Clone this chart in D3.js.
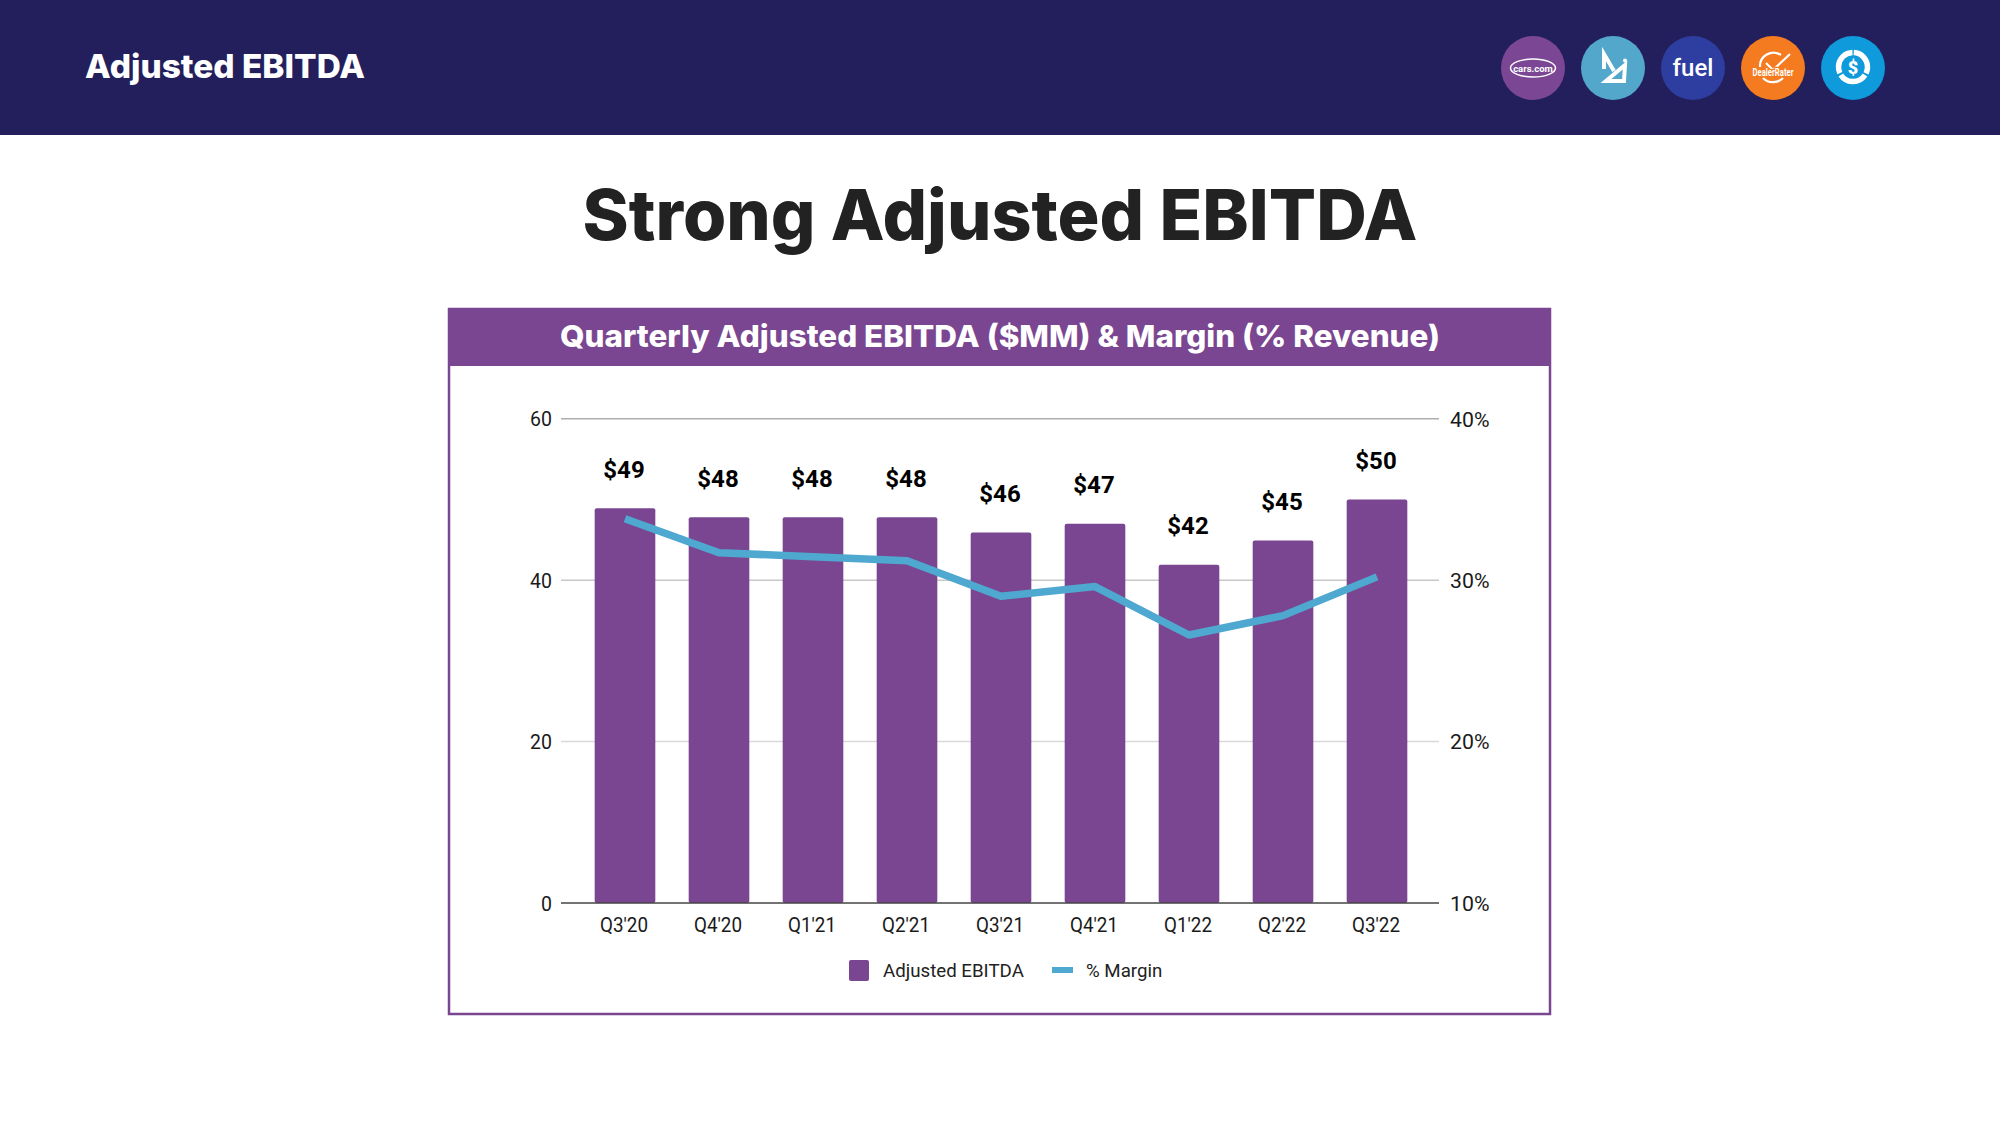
<!DOCTYPE html>
<html><head><meta charset="utf-8">
<script src="https://cdnjs.cloudflare.com/ajax/libs/d3/7.8.5/d3.min.js"></script>
<style>
html,body{margin:0;padding:0;background:#fff}
svg{display:block}
.tick text{font-family:Roboto,sans-serif;font-size:19.5px;fill:#1a1a1a}
.poppins{font-family:Inter,"Open Sans",sans-serif;font-weight:800}
</style></head><body>
<svg id="c" width="2000" height="1125"></svg>
<script>
const quarters=["Q3'20","Q4'20","Q1'21","Q2'21","Q3'21","Q4'21","Q1'22","Q2'22","Q3'22"];
const ebitda=[48.9,47.8,47.8,47.8,45.9,47,41.9,44.9,50];
const margin=[33.8,31.7,31.45,31.2,29.0,29.6,26.6,27.8,30.2];
const leftTicks=[0,20,40,60];
const rightTicks=[10,20,30,40];
const purple="#7A4691",blue="#4FA8CF",navy="#231F5C";

const svg=d3.select("#c");
const plot={l:561,r:1439,t:418.7,b:903};
const x=d3.scaleBand().domain(quarters).range([578,1424]).paddingInner(0.355).paddingOuter(0.1775);
const yL=d3.scaleLinear().domain([0,60]).range([plot.b,plot.t]);
const yR=d3.scaleLinear().domain([10,40]).range([plot.b,plot.t]);

// page header
svg.append("rect").attr("width",2000).attr("height",135).attr("fill",navy);
svg.append("text").attr("class","poppins").attr("x",85).attr("y",78).attr("font-size",33)
  .attr("fill","#fff").attr("textLength",280).attr("lengthAdjust","spacingAndGlyphs").text("Adjusted EBITDA");

// brand badges
const badges=[1533,1613,1693,1773,1853];
const badgeColors=["#7B4795","#52A7CB","#2E3DA0","#F47B20","#0F9ADB"];
const icons=svg.append("g");
badges.forEach((cx,i)=>icons.append("circle").attr("cx",cx).attr("cy",68).attr("r",32).attr("fill",badgeColors[i]));
const W="#fff";
icons.append("ellipse").attr("cx",1533).attr("cy",68).attr("rx",22.5).attr("ry",9).attr("fill","none").attr("stroke",W).attr("stroke-width",1.5);
icons.append("text").attr("x",1533).attr("y",71.5).attr("text-anchor","middle").attr("font-family","Roboto").attr("font-weight",700).attr("font-size",9.5).attr("fill",W).text("cars.com");
icons.append("path").attr("d","M1604 69V54L1614 71").attr("fill","none").attr("stroke",W).attr("stroke-width",4);
icons.append("path").attr("d","M1625 65L1606 81H1624Z").attr("fill","none").attr("stroke",W).attr("stroke-width",4);
icons.append("circle").attr("cx",1625).attr("cy",60.5).attr("r",2).attr("fill",W);
icons.append("text").attr("x",1693).attr("y",76).attr("text-anchor","middle").attr("font-family","Roboto").attr("font-weight",500).attr("font-size",24).attr("fill",W).text("fuel");
icons.append("path").attr("d","M1760 67A13.5 13.5 0 0 1 1781 55M1766 63L1773 70L1790 54").attr("fill","none").attr("stroke",W).attr("stroke-width",2.2);
icons.append("path").attr("d","M1763 78A14 14 0 0 0 1783 78").attr("fill","none").attr("stroke",W).attr("stroke-width",2.2);
icons.append("text").attr("x",1773).attr("y",76).attr("text-anchor","middle").attr("font-family","Roboto").attr("font-weight",700).attr("font-size",10)
  .attr("fill",W).attr("stroke","#F47B20").attr("stroke-width",2.5).attr("paint-order","stroke").attr("textLength",41).attr("lengthAdjust","spacingAndGlyphs").text("DealerRater");
icons.append("circle").attr("cx",1853).attr("cy",67).attr("r",14.5).attr("fill","none").attr("stroke",W).attr("stroke-width",5.5).attr("stroke-dasharray","28.4 2")
  .attr("transform","rotate(-87 1853 67)");
icons.append("text").attr("x",1853).attr("y",73.5).attr("text-anchor","middle").attr("font-family","Roboto").attr("font-weight",900).attr("font-size",18).attr("fill",W).text("$");

// titles
svg.append("text").attr("class","poppins").attr("x",1000).attr("y",240).attr("text-anchor","middle").attr("font-size",70)
  .attr("fill","#222").attr("textLength",835).attr("lengthAdjust","spacingAndGlyphs").text("Strong Adjusted EBITDA");
svg.append("rect").attr("x",449).attr("y",309).attr("width",1101).attr("height",705).attr("fill","none").attr("stroke",purple).attr("stroke-width",2.5);
svg.append("rect").attr("x",448).attr("y",308).attr("width",1103).attr("height",58).attr("fill",purple);
svg.append("text").attr("class","poppins").attr("x",1000).attr("y",347).attr("text-anchor","middle").attr("font-size",30)
  .attr("fill","#fff").attr("textLength",880).attr("lengthAdjust","spacingAndGlyphs").text("Quarterly Adjusted EBITDA ($MM) & Margin (% Revenue)");

// gridlines
const gridColor={60:"#adadad",40:"#c8c8c8",20:"#d9d9d9"};
svg.append("g").selectAll("line").data(leftTicks.filter(d=>d>0)).join("line")
  .attr("x1",plot.l).attr("x2",plot.r).attr("y1",d=>yL(d)).attr("y2",d=>yL(d))
  .attr("stroke",d=>gridColor[d]).attr("stroke-width",1.5);

// bars
svg.append("g").selectAll("rect").data(ebitda).join("rect")
  .attr("x",(d,i)=>x(quarters[i])).attr("width",x.bandwidth())
  .attr("y",d=>yL(d)).attr("height",d=>yL(0)-yL(d)).attr("rx",2).attr("fill",purple);

// baseline
svg.append("line").attr("x1",plot.l).attr("x2",plot.r).attr("y1",plot.b).attr("y2",plot.b).attr("stroke","#444").attr("stroke-width",1.5);

// axes
const axL=svg.append("g").attr("transform",`translate(${plot.l},1)`).call(d3.axisLeft(yL).tickValues(leftTicks).tickSize(0).tickPadding(9));
const axR=svg.append("g").attr("transform",`translate(${plot.r},1)`).call(d3.axisRight(yR).tickValues(rightTicks).tickFormat(d=>d+"%").tickSize(0).tickPadding(11));
const axB=svg.append("g").attr("transform",`translate(-1,${plot.b})`).call(d3.axisBottom(x).tickSize(0).tickPadding(15));
[axL,axR,axB].forEach(a=>a.select(".domain").remove());
axR.selectAll("text").style("font-size","20px").attr("textLength",39.5).attr("lengthAdjust","spacingAndGlyphs");
axB.selectAll("text").attr("textLength",48).attr("lengthAdjust","spacingAndGlyphs");

// margin line
const line=d3.line().x((d,i)=>x(quarters[i])+x.bandwidth()/2).y(d=>yR(d));
svg.append("path").datum(margin).attr("d",line).attr("fill","none").attr("stroke",blue).attr("stroke-width",7.5).attr("stroke-linejoin","round");

// value labels
svg.append("g").selectAll("text").data(ebitda).join("text")
  .attr("x",(d,i)=>x(quarters[i])+x.bandwidth()/2-1).attr("y",d=>yL(d)-30.5)
  .attr("text-anchor","middle").attr("font-family","Roboto").attr("font-weight",700).attr("font-size",24)
  .attr("fill","#000").text(d=>"$"+Math.round(d));

// legend
const lg=svg.append("g");
lg.append("rect").attr("x",849).attr("y",960).attr("width",20).attr("height",21).attr("rx",2).attr("fill",purple);
lg.append("text").attr("x",883).attr("y",977).attr("font-family","Roboto").attr("font-size",18.7).attr("fill","#222").text("Adjusted EBITDA");
lg.append("rect").attr("x",1052).attr("y",967).attr("width",21).attr("height",6).attr("fill",blue);
lg.append("text").attr("x",1086).attr("y",977).attr("font-family","Roboto").attr("font-size",18.7).attr("fill","#222").text("% Margin");
</script></body></html>
